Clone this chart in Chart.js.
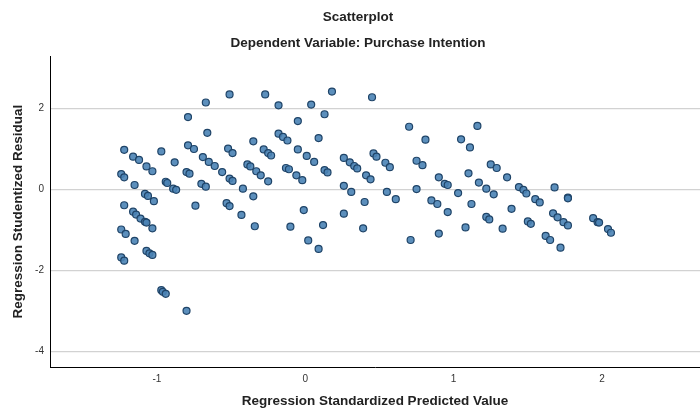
<!DOCTYPE html>
<html>
<head>
<meta charset="utf-8">
<title>Scatterplot</title>
<script src="https://cdn.jsdelivr.net/npm/chart.js@4/dist/chart.umd.min.js"></script>
<style>
    html, body { margin: 0; padding: 0; background: #ffffff; }
    #wrap { width: 700px; height: 409px; position: relative; }
</style>
</head>
<body>
<div id="wrap"><canvas id="scatterChart" width="700" height="409"></canvas></div>
<script>
// Regression Standardized Predicted Value (x)
const predictedValues = [
    -0.51, -0.67, -0.79, -0.66, -1.22, -1.16, -1.12, -0.97, -1.07, -1.03,
    -0.88, -0.79, -0.75, -0.69, -0.65, -0.61, -0.56, -0.52, -0.49, -0.51,
    -0.49, -1.24, -1.22, -1.15, -0.94, -0.93, -0.89, -0.87, -0.80, -0.78,
    -0.70, -0.67, -1.08, -1.06, -1.02, -1.22, -1.16, -1.14, -1.11, -1.08,
    -1.07, -1.03, -0.74, -0.53, -0.51, -1.24, -1.21, -1.15, -1.07, -1.05,
    -1.03, -1.24, -1.22, -0.97, -0.96, -0.94, -0.80,
    -0.27, -0.18, 0.04, 0.18, 0.13, -0.05, -0.35, -0.18, -0.15, -0.12,
    0.09, -0.28, -0.25, -0.23, -0.05, 0.01, 0.06, -0.39, -0.37, -0.33,
    -0.30, -0.25, -0.13, -0.11, -0.06, -0.02, 0.13, 0.15, 0.26, 0.30,
    0.33, 0.35, -0.42, -0.35, 0.26, 0.31, -0.43, -0.34, -0.10, -0.01,
    0.12, 0.26, 0.02, 0.09,
    0.45, 0.46, 0.48, 0.41, 0.44, 0.40, 0.39, 0.54, 0.57, 0.55,
    0.61, 0.70, 0.81, 0.75, 0.79, 0.75, 0.71, 0.90, 0.94, 0.96,
    0.85, 0.89, 0.96, 0.90, 1.03, 1.05, 1.11, 1.16, 1.10, 1.17,
    1.22, 1.12, 1.22, 1.24, 1.08,
    1.25, 1.29, 1.36, 1.27, 1.33, 1.39, 1.44, 1.47, 1.49, 1.55,
    1.58, 1.50, 1.52, 1.68, 1.77, 1.77, 1.67, 1.70, 1.74, 1.77,
    1.62, 1.65, 1.72, 1.94, 1.97, 1.98, 2.04, 2.06
];

// Regression Studentized Residual (y)
const studentizedResiduals = [
    2.35, 2.15, 1.79, 1.40, 0.98, 0.81, 0.73, 0.94, 0.57, 0.45,
    0.67, 1.09, 1.00, 0.80, 0.68, 0.58, 0.43, 1.01, 0.90, 0.27,
    0.21, 0.38, 0.30, 0.11, 0.19, 0.16, 0.02, -0.01, 0.43, 0.39,
    0.14, 0.07, -0.11, -0.16, -0.29, -0.39, -0.55, -0.62, -0.72, -0.80,
    -0.82, -0.96, -0.40, -0.34, -0.41, -0.99, -1.10, -1.27, -1.52, -1.58,
    -1.62, -1.68, -1.76, -2.49, -2.53, -2.58, -3.00,
    2.35, 2.08, 2.10, 2.42, 1.86, 1.69, 1.19, 1.38, 1.30, 1.21,
    1.27, 0.99, 0.90, 0.84, 0.99, 0.83, 0.68, 0.62, 0.57, 0.45,
    0.35, 0.20, 0.53, 0.50, 0.35, 0.23, 0.48, 0.42, 0.78, 0.67,
    0.58, 0.52, 0.02, -0.17, 0.09, -0.06, -0.63, -0.91, -0.92, -0.51,
    -0.88, -0.60, -1.26, -1.47,
    2.28, 0.89, 0.81, 0.35, 0.25, -0.31, -0.96, 0.66, 0.55, -0.06,
    -0.24, 1.55, 1.23, 0.71, 0.60, 0.01, -1.25, 0.30, 0.14, 0.11,
    -0.27, -0.36, -0.56, -1.09, -0.09, 1.24, 1.04, 1.57, 0.40, 0.17,
    0.02, -0.36, -0.68, -0.74, -0.94,
    0.62, 0.53, 0.30, -0.12, -0.97, -0.48, 0.06, -0.01, -0.10, -0.24,
    -0.32, -0.79, -0.85, 0.05, -0.20, -0.22, -0.59, -0.69, -0.81, -0.89,
    -1.15, -1.25, -1.44, -0.71, -0.81, -0.82, -0.98, -1.07
];

const xTickValues = [-1, 0, 1, 2];
const yTickValues = [-4, -2, 0, 2];

const points = predictedValues.map((x, i) => ({ x: x, y: studentizedResiduals[i] }));

const font = 'Liberation Sans, Arial, sans-serif';

new Chart(document.getElementById('scatterChart'), {
    type: 'scatter',
    data: {
        datasets: [{
            label: 'Residuals',
            data: points,
            backgroundColor: 'rgba(74, 131, 181, 0.9)',
            borderColor: '#1f4468',
            borderWidth: 1.2,
            pointRadius: 3.5
        }]
    },
    options: {
        responsive: false,
        animation: false,
        // left padding shifts the titles a bit right, like the original
        // autoPadding off so the plot runs to the right edge
        layout: { autoPadding: false, padding: { left: 16, right: 0, top: 0, bottom: 0 } },
        plugins: {
            legend: { display: false },
            tooltip: { enabled: false },
            title: {
                display: true,
                text: 'Scatterplot',
                color: '#222',
                font: { family: font, size: 13.5, weight: 'bold', lineHeight: 1.2 },
                padding: { top: 9, bottom: 10 }
            },
            subtitle: {
                display: true,
                text: 'Dependent Variable: Purchase Intention',
                color: '#222',
                font: { family: font, size: 13.5, weight: 'bold', lineHeight: 1.2 },
                padding: { top: 0, bottom: 5 }
            }
        },
        scales: {
            x: {
                type: 'linear',
                min: -1.72,
                max: 2.66,
                afterBuildTicks: s => { s.ticks = xTickValues.map(v => ({ value: v })); },
                afterFit: s => { s.height = 42; s.paddingLeft = 0; s.paddingRight = 0; },
                grid: { display: false, drawTicks: false },
                border: { display: true, color: '#000', width: 1 },
                ticks: { color: '#333', padding: 6, font: { family: font, size: 10 } },
                title: {
                    display: true,
                    text: 'Regression Standardized Predicted Value',
                    color: '#222',
                    font: { family: font, size: 13.5, weight: 'bold', lineHeight: 1.2 },
                    padding: { top: 0, bottom: 0 }
                }
            },
            y: {
                type: 'linear',
                min: -4.39,
                max: 3.29,
                afterBuildTicks: s => { s.ticks = yTickValues.map(v => ({ value: v })); },
                afterFit: s => { s.width = 34; },
                grid: { color: '#d2d2d2', lineWidth: 1.2, drawTicks: false },
                border: { display: true, color: '#000', width: 1 },
                ticks: { color: '#333', padding: 6, font: { family: font, size: 10 } },
                title: {
                    display: true,
                    text: 'Regression Studentized Residual',
                    color: '#222',
                    font: { family: font, size: 13.5, weight: 'bold', lineHeight: 1.2 },
                    padding: { top: -6, bottom: 0 }
                }
            }
        }
    }
});
</script>
</body>
</html>
